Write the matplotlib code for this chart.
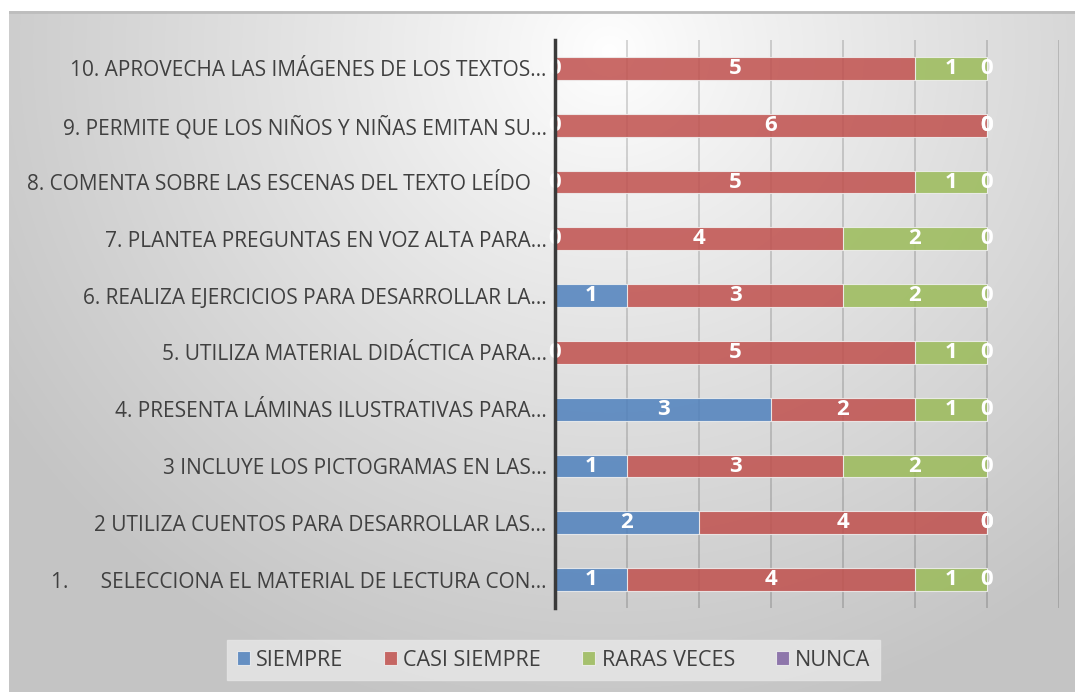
import numpy as np
import matplotlib
matplotlib.use("Agg")
import matplotlib.pyplot as plt

categories = [
    "1.      SELECCIONA EL MATERIAL DE LECTURA CON…",
    "2 UTILIZA CUENTOS PARA DESARROLLAR LAS…",
    "3 INCLUYE LOS PICTOGRAMAS EN LAS…",
    "4. PRESENTA LÁMINAS ILUSTRATIVAS PARA…",
    "5. UTILIZA MATERIAL DIDÁCTICA PARA…",
    "6. REALIZA EJERCICIOS PARA DESARROLLAR LA…",
    "7. PLANTEA PREGUNTAS EN VOZ ALTA PARA…",
    "8. COMENTA SOBRE LAS ESCENAS DEL TEXTO LEÍDO   ",
    "9. PERMITE QUE LOS NIÑOS Y NIÑAS EMITAN SU…",
    "10. APROVECHA LAS IMÁGENES DE LOS TEXTOS…",
]
series_names = ["SIEMPRE", "CASI SIEMPRE", "RARAS VECES", "NUNCA"]
siempre = [1, 2, 1, 3, 0, 1, 0, 0, 0, 0]
casi_siempre = [4, 4, 3, 2, 5, 3, 4, 5, 6, 5]
raras_veces = [1, 0, 2, 1, 1, 2, 2, 1, 0, 1]
nunca = [0, 0, 0, 0, 0, 0, 0, 0, 0, 0]
colors = ["#4f81bd", "#c0504d", "#9bbb59", "#8064a2"]

W, H = 1075, 692
fig = plt.figure(figsize=(W / 100, H / 100), dpi=100)
fig.patch.set_facecolor("white")

# background radial gradient panel
bg = fig.add_axes([9 / W, 0, 1 - 9 / W, (H - 11) / H])
bg.set_axis_off()
gw, gh = 1066, 681
yy, xx = np.mgrid[0:gh, 0:gw]
cx, cy = 600, 40
d = np.sqrt((xx - cx) ** 2 + ((yy - cy) / 0.95) ** 2)
d = np.clip(d / 720.0, 0, 1)
v = 1.0 - (1.0 - 0.77) * d ** 0.9
img = np.dstack([v, v, v])
bg.imshow(img, aspect="auto", extent=[0, 1, 0, 1], origin="upper")
bg.set_xlim(0, 1)
bg.set_ylim(0, 1)
bg.plot([0, 1], [0.999, 0.999], color="#bdbdbd", lw=2, transform=bg.transAxes)

ax = fig.add_axes([555 / W, (H - 608) / H, (1059 - 555) / W, (608 - 40) / H])
ax.patch.set_alpha(0)
y = np.arange(len(categories))
data = [siempre, casi_siempre, raras_veces, nunca]
left = np.zeros(len(categories))
for name, vals, col in zip(series_names, data, colors):
    vals = np.array(vals, dtype=float)
    ax.barh(y, vals, left=left, height=0.4, color=col, alpha=0.85,
            edgecolor="#f0f0f0", linewidth=0.8, label=name, zorder=3)
    for yi, (l, vv) in enumerate(zip(left, vals)):
        ax.text(l + vv / 2, yi, f"{int(vv)}", ha="center", va="center",
                color="white", fontsize=16, fontweight="bold",
                family="Open Sans", zorder=5)
    left = left + vals

ax.set_xlim(0, 7)
ax.set_ylim(-0.5, 9.5)
ax.set_xticks(np.arange(0, 8))
ax.xaxis.grid(True, color="black", alpha=0.18, lw=1.2, zorder=0)
ax.set_axisbelow(True)
ax.tick_params(axis="x", length=0, labelbottom=False)
ax.tick_params(axis="y", length=0, pad=6)
ax.set_yticks(y)
ax.set_yticklabels(categories, fontsize=15, color="#404040", family="Open Sans")
for s in ["top", "right", "bottom"]:
    ax.spines[s].set_visible(False)
ax.spines["left"].set_color("#3a3a3a")
ax.spines["left"].set_linewidth(2.5)
ax.spines["left"].set_zorder(6)

leg = fig.legend(loc="center", bbox_to_anchor=(553.5 / W, (H - 660) / H),
                 ncol=4, frameon=True, fancybox=False,
                 prop={"family": "Open Sans", "size": 15.5},
                 handlelength=0.6, handleheight=0.6, handletextpad=0.3,
                 columnspacing=1.9, borderpad=0.45, borderaxespad=0)
leg.get_frame().set_facecolor("#e4e4e4")
leg.get_frame().set_edgecolor("#e4e4e4")
leg.get_frame().set_alpha(0.9)
for t in leg.get_texts():
    t.set_color("#404040")

fig.savefig("out.png", dpi=100)
